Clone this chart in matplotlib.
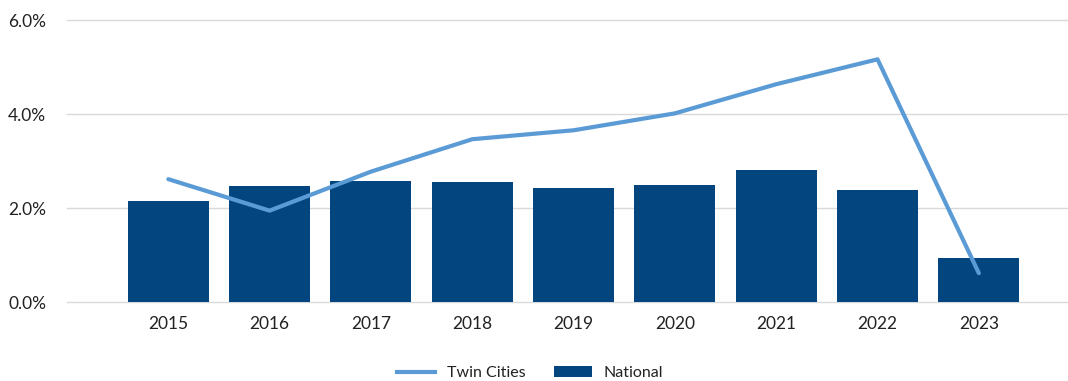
import matplotlib
matplotlib.use("Agg")
import matplotlib.pyplot as plt
from matplotlib.ticker import FuncFormatter
from matplotlib.lines import Line2D
from matplotlib.patches import Patch

years = ["2015", "2016", "2017", "2018", "2019", "2020", "2021", "2022", "2023"]
national = [2.16, 2.48, 2.59, 2.57, 2.43, 2.50, 2.81, 2.39, 0.94]
twin_cities = [2.62, 1.95, 2.78, 3.47, 3.66, 4.02, 4.64, 5.17, 0.62]

bar_color = "#03467F"
line_color = "#5B9BD5"
text_color = "#222222"

plt.rcParams['font.family'] = ['Lato', 'DejaVu Sans']

fig = plt.figure(figsize=(10.68, 3.81), dpi=100)
ax = fig.add_axes([67/1068, 1 - 302.3/381, 1 - 67/1068, (302.3 - 20.3)/381])

x = list(range(len(years)))
ax.bar(x, national, width=0.8, color=bar_color, zorder=2)
ax.plot(x, twin_cities, color=line_color, linewidth=3, solid_capstyle='round', zorder=3)

ax.set_ylim(0, 6.0)
ax.set_xlim(-1.0, 8.88)
ax.set_yticks([0, 2, 4, 6])
ax.yaxis.set_major_formatter(FuncFormatter(lambda v, p: f"{v:.1f}%"))
ax.set_xticks(x)
ax.set_xticklabels(years)
ax.grid(axis='y', color='#d9d9d9', linewidth=1, zorder=0)
ax.set_axisbelow(True)
for gl in ax.get_ygridlines():
    gl.set_clip_on(False)
for s in ax.spines.values():
    s.set_visible(False)
ax.tick_params(axis='both', length=0, labelsize=12.5, colors=text_color)
ax.tick_params(axis='x', pad=10)
ax.tick_params(axis='y', pad=15)

handles = [Line2D([0], [0], color=line_color, linewidth=3),
           Patch(facecolor=bar_color)]
fig.legend(handles, ["Twin Cities", "National"], loc='center', bbox_to_anchor=(530/1068, 1 - 373/381),
           ncol=2, frameon=False, fontsize=11.5, handlelength=2.4, columnspacing=1.8,
           handletextpad=0.7, labelcolor=text_color)

fig.savefig("out.png", dpi=100)
